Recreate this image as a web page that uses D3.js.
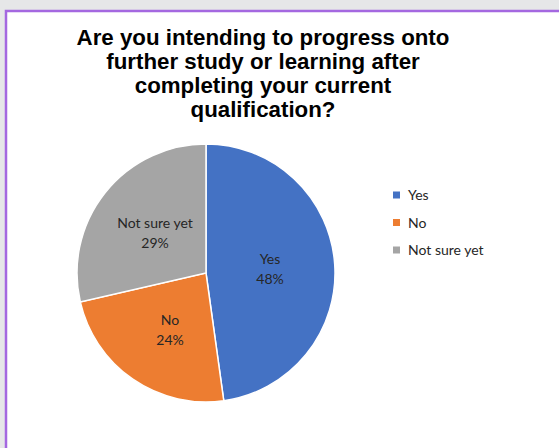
<!DOCTYPE html>
<html>
<head>
<meta charset="utf-8">
<script src="https://cdn.jsdelivr.net/npm/d3@7"></script>
<style>
  html, body { margin: 0; padding: 0; background: #e6e7e8; }
  svg { display: block; }
</style>
</head>
<body>
<svg id="pieChart" width="559" height="448"></svg>
<script>
// chart data
const categories = ["Yes", "No", "Not sure yet"];
const shares = [47.8, 23.6, 28.6];
const percentLabels = ["48%", "24%", "29%"];
const colours = ["#4472c4", "#ed7d31", "#a5a5a5"];
const titleLines = [
  "Are you intending to progress onto",
  "further study or learning after",
  "completing your current",
  "qualification?"
];

const svg = d3.select("#pieChart");

// white chart area with purple frame
svg.append("rect")
  .attr("x", 6)
  .attr("y", 11)
  .attr("width", 570)
  .attr("height", 460)
  .attr("fill", "#fff")
  .attr("stroke", "#a468e0")
  .attr("stroke-width", 2.5);

// title
const title = svg.append("text")
  .attr("text-anchor", "middle")
  .style("font-family", "'Liberation Sans', Arial, sans-serif")
  .style("font-weight", "bold")
  .style("font-size", "22.3px")
  .style("fill", "#000");

title.selectAll("tspan")
  .data(titleLines)
  .enter()
  .append("tspan")
  .attr("x", 263)
  .attr("y", (d, i) => 45 + i * 24)
  .text(d => d);

// pie
const cx = 206, cy = 273, radius = 129;
const g = svg.append("g").attr("transform", `translate(${cx},${cy})`);

const pie = d3.pie().sort(null).value(d => d);
const arcs = pie(shares);
const arc = d3.arc().innerRadius(0).outerRadius(radius);

g.selectAll(".slice")
  .data(arcs)
  .enter()
  .append("path")
  .attr("class", "slice")
  .attr("d", arc)
  .attr("fill", (d, i) => colours[i])
  .attr("stroke", "#fff")
  .attr("stroke-width", 1.5);

// data labels
const labelOffsets = [[64, -5], [-36, 56], [-51, -41]];
const labels = g.selectAll(".label")
  .data(arcs)
  .enter()
  .append("text")
  .attr("class", "label")
  .attr("text-anchor", "middle")
  .style("font-family", "Lato, 'Open Sans', sans-serif")
  .style("font-size", "14px")
  .style("fill", "#262626");

labels.append("tspan")
  .attr("x", (d, i) => labelOffsets[i][0])
  .attr("y", (d, i) => labelOffsets[i][1] - 4)
  .text((d, i) => categories[i]);

labels.append("tspan")
  .attr("x", (d, i) => labelOffsets[i][0])
  .attr("y", (d, i) => labelOffsets[i][1] + 16)
  .text((d, i) => percentLabels[i]);

// legend
const legend = svg.append("g").attr("transform", "translate(393,195)");
const items = legend.selectAll(".item")
  .data(categories)
  .enter()
  .append("g")
  .attr("class", "item")
  .attr("transform", (d, i) => `translate(0,${i * 27.5})`);

items.append("rect")
  .attr("x", 0)
  .attr("y", -3.5)
  .attr("width", 7)
  .attr("height", 7)
  .attr("fill", (d, i) => colours[i]);

items.append("text")
  .attr("x", 15)
  .attr("y", 5)
  .style("font-family", "Lato, 'Open Sans', sans-serif")
  .style("font-size", "14px")
  .style("fill", "#262626")
  .text(d => d);
</script>
</body>
</html>
